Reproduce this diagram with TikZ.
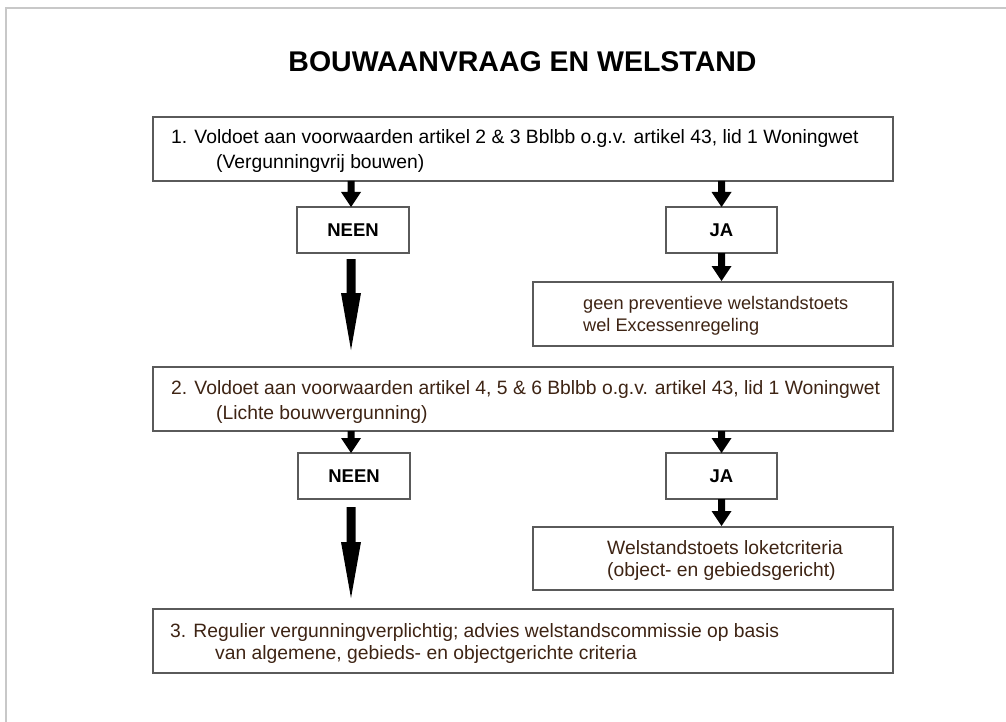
\documentclass[tikz,border=0pt]{standalone}
\usepackage{fontspec}
\setmainfont{Liberation Sans}
\usetikzlibrary{calc}
\definecolor{brn}{RGB}{62,36,20}
\definecolor{boxline}{RGB}{90,90,90}
\definecolor{framegray}{RGB}{200,200,200}
% block arrow: #1 start, #2 tip, #3 half shaft width, #4 half head width, #5 head length
\newcommand\blockarrow[5]{%
  \fill let \p1=(#1), \p2=(#2) in
    (\x1-#3,\y1) -- (\x1+#3,\y1) -- (\x1+#3,\y2+#5) -- (\x1+#4,\y2+#5)
    -- (\x1,\y2) -- (\x1-#4,\y2+#5) -- (\x1-#3,\y2+#5) -- cycle;}
\tikzset{
  box/.style={draw=boxline, line width=1.4pt, rectangle, inner sep=0pt, outer sep=0pt, anchor=north west, fill=white},
  txt/.style={anchor=base west, inner sep=0pt, font=\fontsize{19.3}{22}\selectfont},
  btxt/.style={txt, text=brn},
  stxt/.style={btxt, font=\fontsize{18.2}{21}\selectfont},
  lbl/.style={font=\bfseries\fontsize{18.5}{20}\selectfont, inner sep=0pt}
}
\begin{document}
\begin{tikzpicture}[x=1pt,y=-1pt]
\useasboundingbox (0,0) rectangle (1006,722);
\fill[white] (0,0) rectangle (1006,722);
\draw[framegray, line width=2pt] (6,722) -- (6,8) -- (1006,8);

\node[font=\bfseries\fontsize{28.5}{30}\selectfont, anchor=base, inner sep=0pt] (title) at (522.5,72) {BOUWAANVRAAG EN WELSTAND};

% boxes
\node[box, minimum width=740pt, minimum height=64pt] (b1) at (153,117) {};
\node[box, minimum width=112pt, minimum height=46pt] (n1) at (297,207) {};
\node[box, minimum width=111pt, minimum height=46pt] (j1) at (666,207) {};
\node[box, minimum width=360pt, minimum height=64pt] (g1) at (533,282) {};
\node[box, minimum width=740pt, minimum height=64pt] (b2) at (153,367) {};
\node[box, minimum width=112pt, minimum height=46pt] (n2) at (298,453) {};
\node[box, minimum width=111pt, minimum height=46pt] (j2) at (666,453) {};
\node[box, minimum width=360pt, minimum height=63pt] (w2) at (533,527) {};
\node[box, minimum width=740pt, minimum height=64pt] (b3) at (153,609) {};

% labels
\node[lbl] (n1t) at (n1.center) {NEEN};
\node[lbl] (j1t) at (j1.center) {JA};
\node[lbl] (n2t) at (n2.center) {NEEN};
\node[lbl] (j2t) at (j2.center) {JA};

% texts
\node[txt] (b1a) at (171,144) {1. Voldoet aan voorwaarden artikel 2 \& 3 Bblbb o.g.v. artikel 43, lid 1 Woningwet};
\node[txt] (b1b) at (216,169) {(Vergunningvrij bouwen)};
\node[stxt] (g1a) at (583,309) {geen preventieve welstandstoets};
\node[stxt] (g1b) at (583,331) {wel Excessenregeling};
\node[btxt] (b2a) at (171,394) {2. Voldoet aan voorwaarden artikel 4, 5 \& 6 Bblbb o.g.v. artikel 43, lid 1 Woningwet};
\node[btxt] (b2b) at (216,419) {(Lichte bouwvergunning)};
\node[btxt] (w2a) at (607,554) {Welstandstoets loketcriteria};
\node[btxt] (w2b) at (607,576) {(object- en gebiedsgericht)};
\node[btxt] (b3a) at (170,637) {3. Regulier vergunningverplichtig; advies welstandscommissie op basis};
\node[btxt] (b3b) at (215,659) {van algemene, gebieds- en objectgerichte criteria};

% arrows
\blockarrow{$(b1.south -| n1.north)+(-2,0)$}{$(n1.north)+(-2,0)$}{3.5pt}{10pt}{15pt}
\blockarrow{b1.south -| j1.north}{j1.north}{3.5pt}{10pt}{15pt}
\blockarrow{j1.south}{$(g1.north -| j1.south)+(0,-1)$}{3.5pt}{10pt}{15pt}
\blockarrow{$(n1.south)+(-2,6)$}{$(n1.south |- b2.north)+(-2,-17)$}{4.5pt}{10pt}{57pt}
\blockarrow{$(b2.south -| n2.north)+(-3,0)$}{$(n2.north)+(-3,0)$}{3.5pt}{10pt}{15pt}
\blockarrow{b2.south -| j2.north}{j2.north}{3.5pt}{10pt}{15pt}
\blockarrow{j2.south}{$(w2.north -| j2.south)+(0,-1)$}{3.5pt}{10pt}{15pt}
\blockarrow{$(n2.south)+(-3,8)$}{$(n2.south |- b3.north)+(-3,-11)$}{4.5pt}{10pt}{56pt}
\end{tikzpicture}
\end{document}
